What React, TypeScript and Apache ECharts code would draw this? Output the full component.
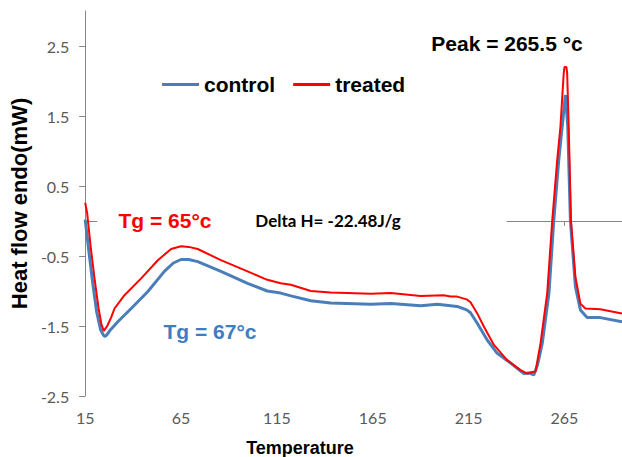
import React, { useEffect, useRef } from "react";
import * as echarts from "echarts";

const controlTemp = [15, 17, 19, 21, 23, 24.5, 25.4, 26.5, 28, 32, 39, 47.6, 56.3, 61, 65, 69, 73.7, 85.8, 99.7, 110, 117, 122.3, 132.7, 143, 164, 174.4, 190, 198.7, 205.6, 209, 214, 216, 219.5, 224.7, 229.9, 236.9, 243.8, 246.5, 249, 251, 253.4, 256.9, 259.4, 262, 263.8, 265.5, 266.7, 268.1, 270.7, 273.3, 276.8, 283.7, 295];
const controlHeat = [0.02, -0.45, -0.9, -1.3, -1.55, -1.63, -1.65, -1.62, -1.56, -1.44, -1.25, -1.01, -0.72, -0.6, -0.55, -0.55, -0.58, -0.72, -0.89, -1.0, -1.03, -1.07, -1.14, -1.17, -1.19, -1.18, -1.21, -1.19, -1.21, -1.22, -1.27, -1.31, -1.46, -1.7, -1.89, -2.03, -2.18, -2.17, -2.2, -2.05, -1.75, -1.03, 0.0, 0.87, 1.35, 1.8, 1.35, 0.0, -0.94, -1.27, -1.38, -1.38, -1.44];

const treatedTemp = [15, 16, 18, 20, 22, 23.5, 24.7, 26.5, 28.5, 30.3, 35.5, 44.2, 52.9, 59.8, 65, 69, 73.7, 85.8, 99.7, 110, 117, 122.3, 132.7, 143, 164, 174.4, 190, 202, 205.6, 209, 214, 216, 219.5, 223, 228.2, 235.2, 242.1, 245.6, 247.5, 249.9, 252.5, 256, 258.6, 261.2, 262.9, 264.6, 265, 266, 266.4, 267.2, 268.4, 270.7, 273.3, 275.9, 283.7, 295];
const treatedHeat = [0.26, 0.12, -0.4, -0.85, -1.25, -1.48, -1.57, -1.5, -1.38, -1.25, -1.06, -0.82, -0.56, -0.4, -0.36, -0.37, -0.4, -0.56, -0.72, -0.84, -0.89, -0.91, -1.0, -1.02, -1.04, -1.03, -1.07, -1.06, -1.08, -1.08, -1.12, -1.16, -1.32, -1.51, -1.77, -1.99, -2.13, -2.18, -2.16, -2.15, -1.75, -1.03, 0.0, 0.87, 1.35, 2.11, 2.2, 2.2, 2.11, 1.35, 0.0, -0.8, -1.18, -1.25, -1.26, -1.32];

const seriesNames = ["control", "treated"];
const seriesColors = ["#4a7ebb", "#ff0000"];

const xMin = 15;
const xMax = 295;
const xInterval = 50;
const yMin = -2.5;
const yMax = 3;
const yInterval = 1;

const xTitle = "Temperature";
const yTitle = "Heat flow endo(mW)";
const peakLabel = "Peak = 265.5 °c";
const tgTreatedLabel = "Tg = 65°c";
const tgControlLabel = "Tg = 67°c";
const deltaHLabel = "Delta H= -22.48J/g";

const zip = (xs: number[], ys: number[]) => xs.map((x, i) => [x, ys[i]]);

export default function App() {
  const ref = useRef<HTMLDivElement>(null);
  useEffect(() => {
    if (!ref.current) return;
    const chart = echarts.init(ref.current, undefined, { renderer: "svg" });
    const bold = "Liberation Sans, Arial, sans-serif";
    const calibri = "Lato, 'Open Sans', sans-serif";
    chart.setOption({
      animation: false,
      backgroundColor: "#ffffff",
      grid: { left: 84, right: 0, top: 11, bottom: 61 },
      legend: {
        left: 157,
        top: 69,
        itemWidth: 37,
        itemHeight: 3,
        itemGap: 18,
        data: seriesNames.map((n) => ({ name: n, icon: "rect" })),
        textStyle: { fontFamily: bold, fontWeight: "bold", fontSize: 21, color: "#000" },
      },
      xAxis: {
        type: "value",
        min: xMin,
        max: xMax,
        interval: xInterval,
        axisLine: { show: false },
        axisTick: { show: false },
        splitLine: { show: false },
        axisLabel: {
          showMaxLabel: false,
          margin: 13,
          fontFamily: calibri,
          fontSize: 16,
          color: "#595959",
        },
      },
      yAxis: {
        type: "value",
        min: yMin,
        max: yMax,
        interval: yInterval,
        name: yTitle,
        nameLocation: "middle",
        nameGap: 53,
        nameTextStyle: { fontFamily: bold, fontWeight: "bold", fontSize: 22, color: "#000" },
        axisLine: { show: true, lineStyle: { color: "#868686", width: 1 } },
        axisTick: { show: true, length: 6, lineStyle: { color: "#868686" } },
        splitLine: { show: false },
        axisLabel: {
          showMaxLabel: false,
          margin: 16,
          fontFamily: calibri,
          fontSize: 16,
          color: "#595959",
          formatter: (v: number) => v.toFixed(1),
        },
      },
      series: [
        {
          name: seriesNames[0],
          type: "line",
          data: zip(controlTemp, controlHeat),
          showSymbol: false,
          symbol: "none",
          color: seriesColors[0],
          lineStyle: { width: 3, color: seriesColors[0] },
          markLine: {
            silent: true,
            z: 1,
            symbol: "none",
            label: { show: false },
            lineStyle: { color: "#868686", width: 1, type: "solid" },
            data: [
              [{ coord: [15, 0] }, { coord: [21.3, 0] }],
              [{ coord: [234.8, 0] }, { coord: [295, 0] }],
              [{ coord: [265, 0] }, { coord: [265, -0.07] }],
            ],
          },
        },
        {
          name: seriesNames[1],
          type: "line",
          data: zip(treatedTemp, treatedHeat),
          showSymbol: false,
          symbol: "none",
          color: seriesColors[1],
          lineStyle: { width: 2, color: seriesColors[1] },
        },
      ],
      graphic: [
        {
          type: "text",
          x: 507,
          y: 43,
          style: { text: peakLabel, fill: "#000", font: `bold 21px ${bold}`, align: "center", verticalAlign: "middle" },
        },
        {
          type: "text",
          x: 165,
          y: 220,
          style: { text: tgTreatedLabel, fill: "#ff0000", font: `bold 21px ${bold}`, align: "center", verticalAlign: "middle" },
        },
        {
          type: "text",
          x: 210,
          y: 331,
          style: { text: tgControlLabel, fill: "#3f7cc2", font: `bold 21px ${bold}`, align: "center", verticalAlign: "middle" },
        },
        {
          type: "text",
          x: 328,
          y: 220,
          style: { text: deltaHLabel, fill: "#000", font: `bold 17px ${calibri}`, align: "center", verticalAlign: "middle" },
        },
        {
          type: "text",
          x: 300,
          y: 448,
          style: { text: xTitle, fill: "#000", font: `bold 18px ${bold}`, align: "center", verticalAlign: "middle" },
        },
      ],
    });
    return () => chart.dispose();
  }, []);
  return (
    <div
      ref={ref}
      style={{ position: "fixed", left: 0, top: 0, width: 622, height: 457, background: "#fff" }}
    />
  );
}
